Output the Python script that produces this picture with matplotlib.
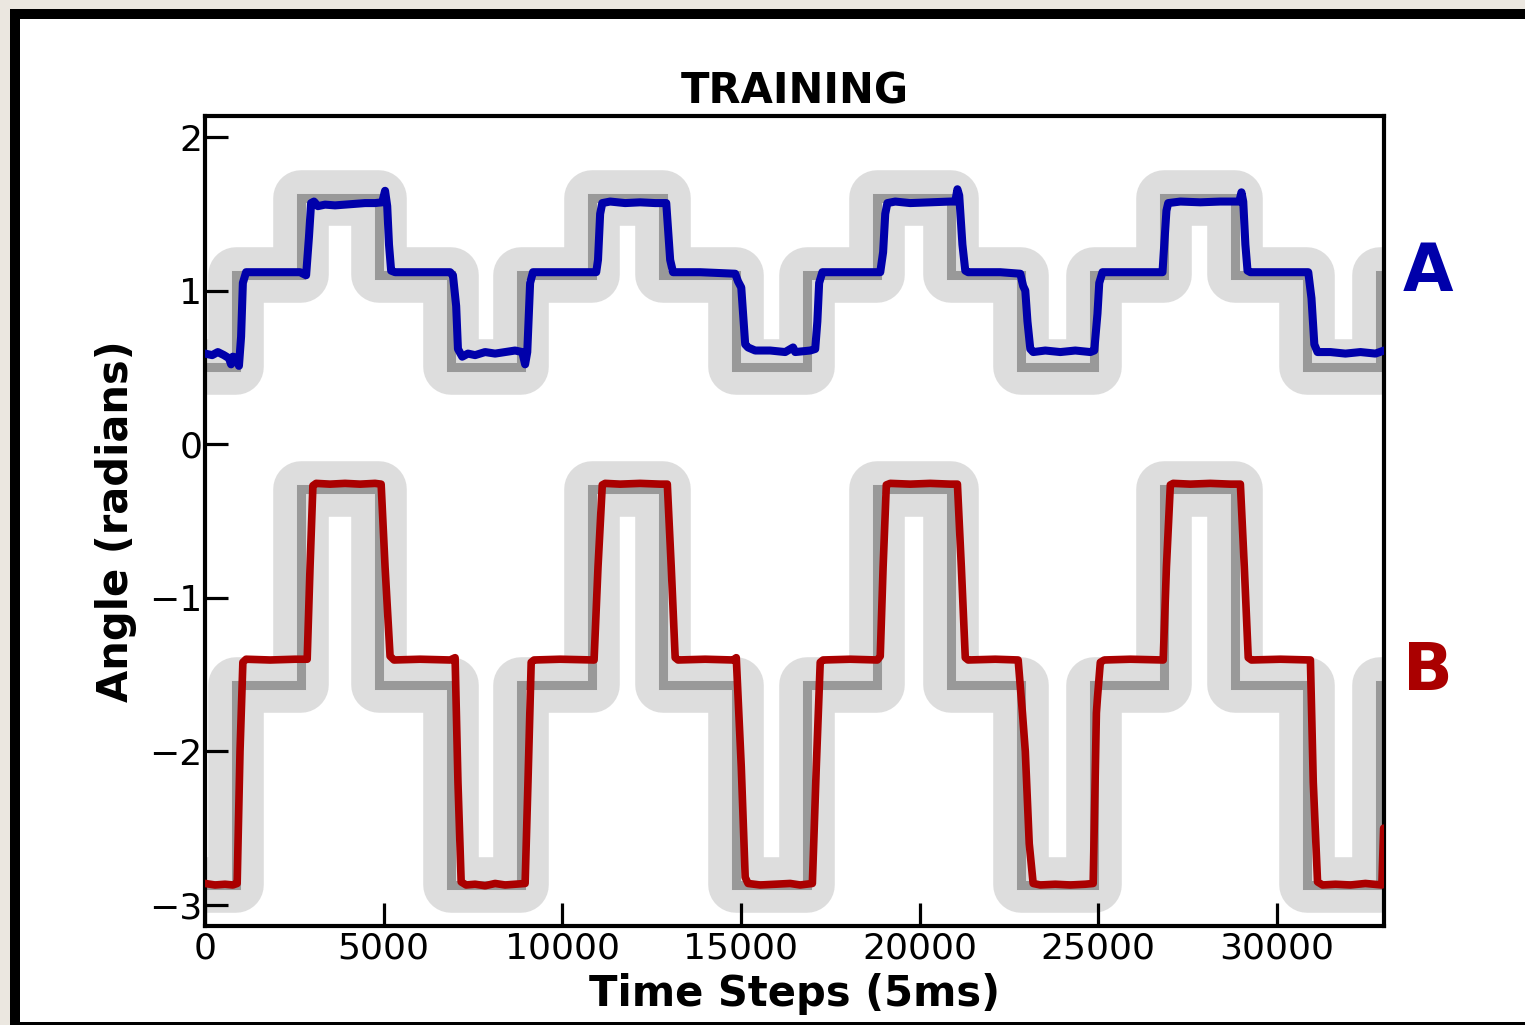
import matplotlib
matplotlib.use("Agg")
import matplotlib.pyplot as plt
from matplotlib.patches import Rectangle

# ---------------- data ----------------
# target step transitions (time steps) shared by both joints
target_transitions = [870, 2690, 4870, 6880, 8840, 10830, 12820, 14860, 16850,
                      18810, 20880, 22840, 24880, 26840, 28830, 30840, 32880]
x_end = 33000
# target levels for each segment (radians)
target_a = [0.5, 1.1, 1.6, 1.1, 0.5, 1.1, 1.6, 1.1, 0.5, 1.1, 1.6, 1.1,
            0.5, 1.1, 1.6, 1.1, 0.5, 1.1]
target_b = [-2.87, -1.57, -0.29, -1.57, -2.87, -1.57, -0.29, -1.57, -2.87,
            -1.57, -0.29, -1.57, -2.87, -1.57, -0.29, -1.57, -2.87, -1.57]

# measured trace A (blue)
a_t = [0, 200, 360, 530, 670, 730, 780, 900, 950, 1010, 1060, 1150, 1540, 2100,
       2660, 2830, 2910, 2970, 3050, 3160, 3360, 3640, 3920, 4200, 4480, 4760,
       4960, 5040, 5100, 5150, 5210, 5320, 6020, 6860, 6940, 7030, 7080, 7200,
       7360, 7560, 7840, 8120, 8400, 8680, 8880, 8960, 9020, 9100, 9180, 9940,
       10950, 11000, 11060, 11120, 11340, 11760, 12180, 12600, 12910, 12960,
       13020, 13100, 13860, 14840, 14920, 15010, 15060, 15120, 15200, 15400,
       15820, 16240, 16460, 16520, 16940, 17080, 17140, 17190, 17280, 18060,
       18900, 18980, 19040, 19100, 19320, 19740, 20300, 20860, 21000, 21060,
       21110, 21200, 21280, 21360, 22260, 22820, 22900, 22960, 23020, 23100,
       23180, 23520, 23940, 24360, 24780, 24890, 24980, 25030, 25120, 25900,
       26800, 26850, 26910, 26960, 27300, 27860, 28420, 28950, 29010, 29060,
       29120, 29180, 29260, 30100, 30880, 30970, 31050, 31140, 31500, 31920,
       32340, 32760, 33000]
a_v = [0.59, 0.58, 0.60, 0.58, 0.56, 0.52, 0.57, 0.56, 0.51, 0.70, 1.05, 1.12,
       1.12, 1.12, 1.12, 1.10, 1.35, 1.57, 1.58, 1.55, 1.56, 1.555, 1.56,
       1.565, 1.57, 1.57, 1.575, 1.65, 1.55, 1.30, 1.13, 1.12, 1.12, 1.12,
       1.10, 0.90, 0.62, 0.57, 0.59, 0.58, 0.60, 0.59, 0.60, 0.61, 0.60, 0.52,
       0.60, 1.05, 1.12, 1.12, 1.12, 1.20, 1.50, 1.57, 1.58, 1.57, 1.575, 1.57,
       1.57, 1.40, 1.20, 1.12, 1.12, 1.11, 1.06, 1.02, 0.85, 0.65, 0.63, 0.61,
       0.61, 0.60, 0.63, 0.60, 0.61, 0.62, 0.80, 1.05, 1.12, 1.12, 1.12, 1.25,
       1.50, 1.57, 1.58, 1.57, 1.575, 1.58, 1.58, 1.66, 1.62, 1.30, 1.13, 1.12,
       1.12, 1.11, 1.03, 1.00, 0.80, 0.62, 0.60, 0.61, 0.60, 0.61, 0.60, 0.61,
       0.85, 1.05, 1.12, 1.12, 1.12, 1.30, 1.52, 1.57, 1.58, 1.575, 1.58, 1.58,
       1.64, 1.58, 1.30, 1.13, 1.12, 1.12, 1.12, 0.95, 0.65, 0.60, 0.60, 0.59,
       0.60, 0.59, 0.61]

# measured trace B (red)
b_t = [0, 280, 560, 780, 900, 980, 1060, 1150, 1820, 2520, 2860, 2940, 3020,
       3110, 3500, 3920, 4340, 4760, 4930, 5040, 5180, 5290, 6020, 6860, 7000,
       7080, 7170, 7310, 7560, 7840, 8120, 8400, 8680, 8960, 9040, 9130, 9210,
       9940, 10890, 11000, 11120, 11200, 11620, 12180, 12740, 12940, 13050,
       13160, 13240, 14000, 14780, 14870, 15010, 15120, 15200, 15540, 15960,
       16380, 16660, 17000, 17110, 17220, 17300, 18060, 18820, 18900, 18980,
       19070, 19180, 19740, 20300, 20860, 21060, 21170, 21280, 21360, 22120,
       22760, 22880, 22960, 23070, 23180, 23380, 23800, 24220, 24640, 24860,
       24950, 24980, 25060, 25170, 25900, 26820, 26910, 27020, 27100, 27580,
       28140, 28700, 28980, 29090, 29200, 29290, 30100, 30940, 31020, 31140,
       31280, 31640, 32060, 32480, 32940, 32990]
b_v = [-2.86, -2.87, -2.865, -2.87, -2.86, -2.0, -1.42, -1.40, -1.405, -1.40,
       -1.40, -0.80, -0.27, -0.255, -0.26, -0.255, -0.26, -0.255, -0.26, -0.80,
       -1.38, -1.405, -1.40, -1.405, -1.39, -2.20, -2.85, -2.87, -2.865, -2.875,
       -2.86, -2.87, -2.865, -2.86, -2.20, -1.42, -1.405, -1.40, -1.405, -0.80,
       -0.265, -0.255, -0.26, -0.255, -0.26, -0.26, -0.80, -1.39, -1.405, -1.40,
       -1.405, -1.39, -2.10, -2.82, -2.86, -2.87, -2.865, -2.86, -2.87, -2.86,
       -2.10, -1.42, -1.405, -1.40, -1.405, -1.38, -0.80, -0.265, -0.255, -0.26,
       -0.255, -0.26, -0.26, -0.80, -1.39, -1.405, -1.40, -1.405, -1.75, -2.00,
       -2.60, -2.86, -2.87, -2.865, -2.87, -2.865, -2.86, -1.75, -1.65, -1.42,
       -1.405, -1.40, -1.405, -0.80, -0.265, -0.255, -0.26, -0.255, -0.26,
       -0.26, -0.80, -1.39, -1.405, -1.40, -1.405, -2.20, -2.85, -2.87, -2.865,
       -2.87, -2.86, -2.87, -2.50]

x_ticks = [0, 5000, 10000, 15000, 20000, 25000, 30000]
y_ticks = [-3, -2, -1, 0, 1, 2]
title = "TRAINING"
x_label = "Time Steps (5ms)"
y_label = "Angle (radians)"
labels = ["A", "B"]
label_y = [1.0, -1.6]
label_x = 34216

BLUE = "#0000aa"
RED = "#aa0000"


def step_path(levels):
    edges = [0] + target_transitions + [x_end]
    xs, ys = [], []
    for i, lv in enumerate(levels):
        xs += [edges[i], edges[i + 1]]
        ys += [lv, lv]
    return xs, ys


W, H = 1525, 1025
fig = plt.figure(figsize=(W / 100, H / 100), dpi=100, facecolor="#ebe7e0")

# page frame
fig.add_artist(Rectangle((10 / W, -0.1), 1.2, 1.1 - 9 / H, transform=fig.transFigure,
                         facecolor="black", edgecolor="none", zorder=-10))
fig.add_artist(Rectangle((20 / W, 3 / H), 1.2, 1 - 22 / H, transform=fig.transFigure,
                         facecolor="white", edgecolor="none", zorder=-9))

ax = fig.add_axes([205 / W, 1 - 926 / H, (1384 - 205) / W, (926 - 116) / H])

for levels in (target_a, target_b):
    xs, ys = step_path(levels)
    ax.plot(xs, ys, color="#dddddd", lw=40, solid_joinstyle="round",
            solid_capstyle="round", zorder=1)
for levels in (target_a, target_b):
    xs, ys = step_path(levels)
    ax.plot(xs, ys, color="#999999", lw=6.5, solid_joinstyle="miter",
            solid_capstyle="butt", zorder=2)

ax.plot(a_t, a_v, color=BLUE, lw=5.8, solid_joinstyle="round",
        solid_capstyle="round", zorder=3)
ax.plot(b_t, b_v, color=RED, lw=5.5, solid_joinstyle="round",
        solid_capstyle="round", zorder=3)

ax.set_xlim(0, x_end)
ax.set_ylim(-3.137, 2.137)
ax.set_xticks(x_ticks)
ax.set_yticks(y_ticks)
ax.tick_params(direction="in", length=16.5, width=2.3, labelsize=26,
               top=False, right=False)
ax.tick_params(axis="x", pad=4)
ax.tick_params(axis="y", pad=2)
for sp in ax.spines.values():
    sp.set_linewidth(3)

ax.set_title(title, fontsize=30, fontweight="bold", pad=9)
ax.set_xlabel(x_label, fontsize=30, fontweight="bold")
ax.set_ylabel(y_label, fontsize=30, fontweight="bold")
ax.xaxis.set_label_coords(0.5, -0.058)
ax.yaxis.set_label_coords(-0.058, 0.5)

for lab, y, c in zip(labels, label_y, (BLUE, RED)):
    ax.text(label_x, y, lab, fontsize=47, fontweight="bold", color=c,
            ha="center", va="baseline", clip_on=False)

fig.savefig("out.png", dpi=100)
